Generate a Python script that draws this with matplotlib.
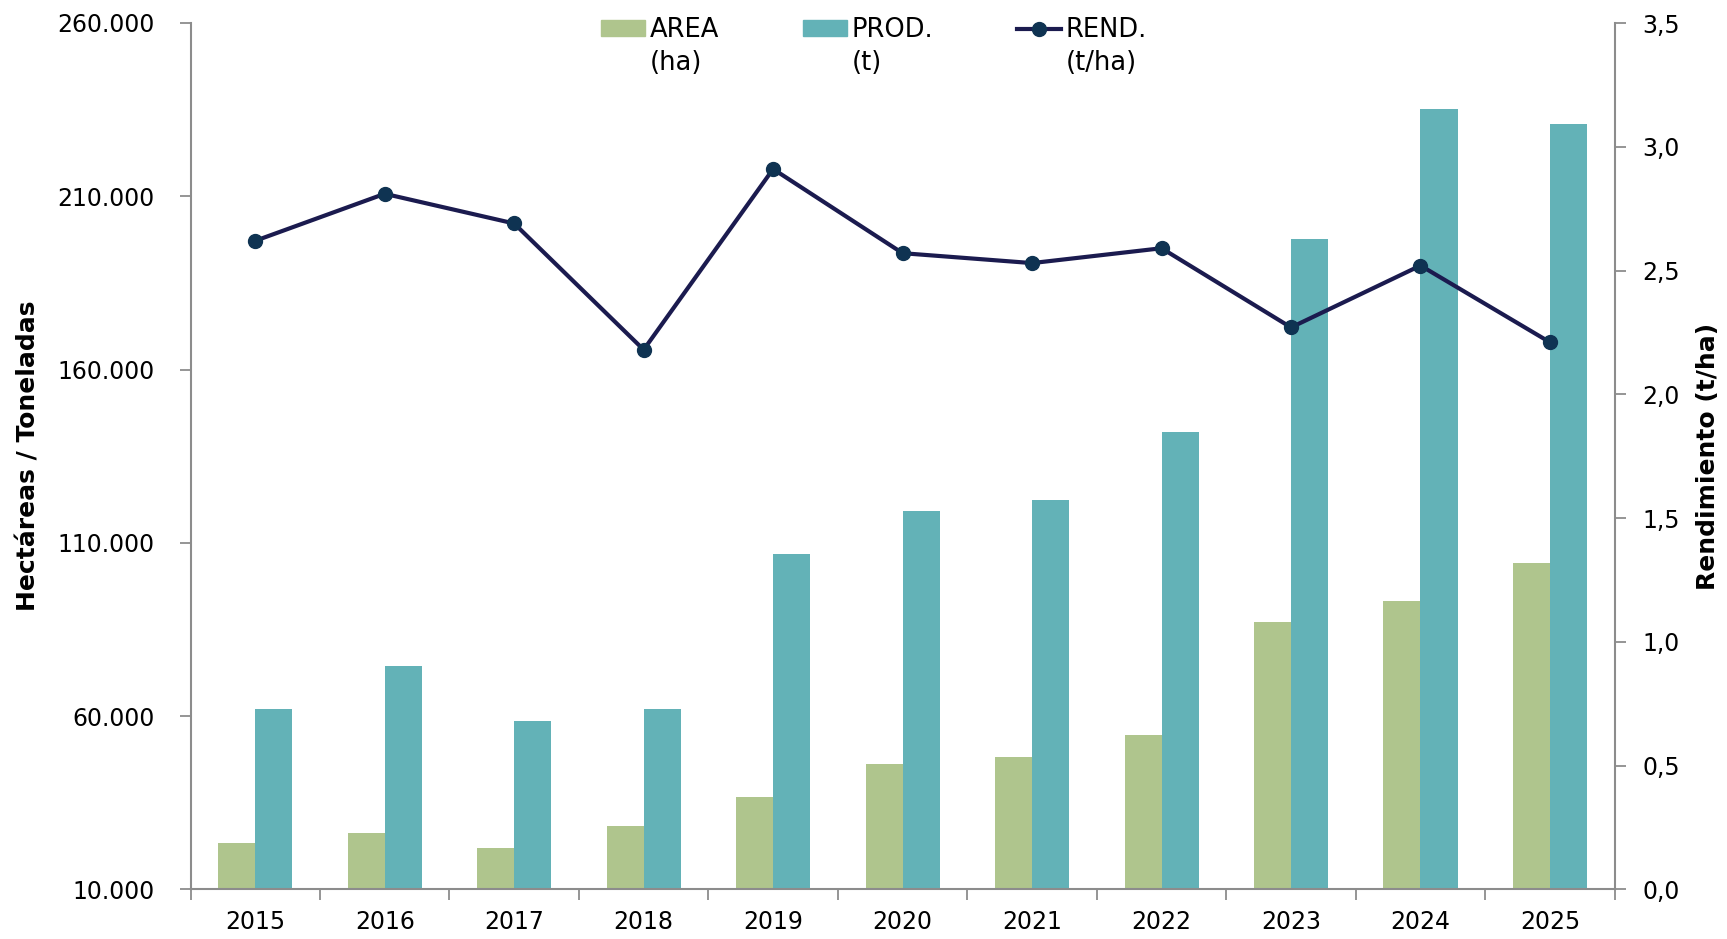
import matplotlib
matplotlib.use("Agg")
import matplotlib.pyplot as plt
import matplotlib.ticker as mticker
from matplotlib.patches import Patch
from matplotlib.lines import Line2D
import numpy as np

years = ['2015', '2016', '2017', '2018', '2019', '2020', '2021', '2022', '2023', '2024', '2025']
area_ha = [23450, 26340, 21840, 28270, 36650, 46260, 48190, 54630, 87250, 93140, 104200]
prod_t = [61960, 74460, 58500, 61960, 106800, 119300, 122300, 141930, 197730, 235260, 230840]
rend_t_ha = [2.62, 2.81, 2.69, 2.18, 2.91, 2.57, 2.53, 2.59, 2.27, 2.52, 2.21]

legend_labels = ['AREA', 'PROD.', 'REND.']
legend_units = ['(ha)', '(t)', '(t/ha)']

GREEN = '#afc58d'
TEAL = '#63b2b7'
NAVY = '#1b1b4f'
DOT = '#0f3352'
GREY = '#8c8c8c'

W, H = 1727, 939
fig = plt.figure(figsize=(W / 100, H / 100), dpi=100)
ax = fig.add_axes([190.5 / W, 1 - 889.3 / H, (1614.7 - 190.5) / W, (889.3 - 23) / H])
ax2 = ax.twinx()

x = np.arange(len(years))
bw = 0.286
ax.bar(x - bw / 2, area_ha, bw, color=GREEN, zorder=2)
ax.bar(x + bw / 2, prod_t, bw, color=TEAL, zorder=2)
ax2.plot(x, rend_t_ha, color=NAVY, lw=3, marker='o', ms=10, mfc=DOT, mec=DOT, zorder=3)

ax.set_xlim(-0.5, len(years) - 0.5)
ax.set_ylim(10000, 260000)
ax2.set_ylim(0, 3.5)

ax.set_xticks(np.arange(-0.5, len(years), 1))
ax.set_xticklabels([])
ax.set_xticks(x, minor=True)
ax.set_xticklabels(years, minor=True)
ax.tick_params(axis='x', which='major', direction='out', length=8, width=1.3, color=GREY)
ax.tick_params(axis='x', which='minor', length=0, pad=15, labelsize=17)

ax.set_yticks(np.arange(10000, 260001, 50000))
ax.yaxis.set_major_formatter(mticker.FuncFormatter(lambda v, p: f'{int(v):,}'.replace(',', '.')))
ax.tick_params(axis='y', direction='out', length=8, width=1.3, color=GREY, pad=18, labelsize=17)

ax2.set_yticks(np.arange(0, 3.51, 0.5))
ax2.yaxis.set_major_formatter(mticker.FuncFormatter(lambda v, p: f'{v:.1f}'.replace('.', ',')))
ax2.tick_params(axis='y', direction='out', length=8, width=1.3, color=GREY, pad=12, labelsize=17)

for a in (ax, ax2):
    a.spines['top'].set_visible(False)
    for s in ('left', 'right', 'bottom'):
        a.spines[s].set_color(GREY)
        a.spines[s].set_linewidth(1.5)
ax.spines['right'].set_visible(False)
ax2.spines['left'].set_visible(False)
ax2.spines['bottom'].set_visible(False)

ax.set_ylabel('Hectáreas / Toneladas', fontsize=18, fontweight='bold')
ax.yaxis.set_label_coords((41 - 190.5) / 1424.2, 0.5)
ax2.set_ylabel('Rendimiento (t/ha)', fontsize=18, fontweight='bold')
ax2.yaxis.set_label_coords((1696 - 190.5) / 1424.2, 0.5)

handles = [Patch(color=GREEN), Patch(color=TEAL),
           Line2D([], [], color=NAVY, lw=3, marker='o', ms=10, mfc=DOT, mec=DOT)]
leg = fig.legend(handles, legend_labels, ncol=3, loc='center',
                 bbox_to_anchor=(874 / W, 1 - 30 / H), frameon=False, fontsize=18.5,
                 handlelength=1.7, handleheight=0.55, handletextpad=0.2,
                 columnspacing=3.26, borderpad=0)

# second line of each legend entry, under its label
fig.canvas.draw()
for t, unit in zip(leg.get_texts(), legend_units):
    bb = t.get_window_extent()
    fig.text(bb.x0 / W, ((bb.y0 + bb.y1) / 2 - 33) / H, unit, fontsize=18.5,
             ha='left', va='center')

fig.savefig('out.png', dpi=100)
